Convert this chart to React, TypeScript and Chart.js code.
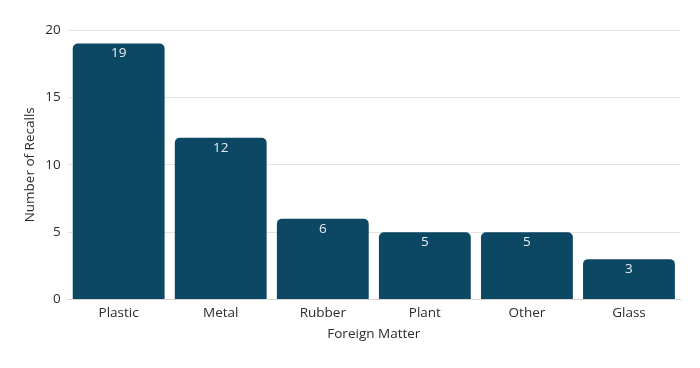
import React, { useEffect, useRef } from "react";
import { Chart, registerables } from "chart.js";

Chart.register(...registerables);

const categories = ["Plastic", "Metal", "Rubber", "Plant", "Other", "Glass"];
const recalls = [19, 12, 6, 5, 5, 3];
const yTicks = [0, 5, 10, 15, 20];

const valueLabels = {
  id: "valueLabels",
  afterDatasetsDraw(chart: any) {
    const ctx = chart.ctx;
    const meta = chart.getDatasetMeta(0);
    ctx.save();
    ctx.fillStyle = "#e8eef2";
    ctx.font = "13.5px 'Open Sans'";
    ctx.textAlign = "center";
    ctx.textBaseline = "middle";
    meta.data.forEach((bar: any, i: number) => {
      ctx.fillText(String(chart.data.datasets[0].data[i]), bar.x, bar.y + 10);
    });
    ctx.restore();
  },
};

export default function App() {
  const ref = useRef<HTMLCanvasElement>(null);
  useEffect(() => {
    document.body.style.margin = "0";
    const font = { family: "'Open Sans'", size: 13.5 };
    const chart = new Chart(ref.current!, {
      type: "bar",
      data: {
        labels: categories,
        datasets: [
          {
            data: recalls,
            backgroundColor: "#0c4764",
            borderRadius: { topLeft: 5, topRight: 5, bottomLeft: 0, bottomRight: 0 },
            borderSkipped: "bottom",
            barPercentage: 0.9,
            categoryPercentage: 1,
          },
        ],
      },
      options: {
        animation: false,
        responsive: false,
        maintainAspectRatio: false,
        layout: { padding: { top: 30, right: 20, bottom: 22, left: 18 } },
        plugins: { legend: { display: false }, tooltip: { enabled: false } },
        scales: {
          x: {
            grid: { display: false, drawTicks: false },
            border: { color: "#d6d6d6" },
            ticks: { color: "#2b2b2b", font, padding: 5 },
            title: {
              display: true,
              text: "Foreign Matter",
              color: "#2b2b2b",
              font,
              padding: { top: 0 },
            },
          },
          y: {
            min: 0,
            max: 20,
            afterBuildTicks: (axis: any) => {
              axis.ticks = yTicks.map((v) => ({ value: v }));
            },
            grid: { color: "#e3e3e3", drawTicks: false },
            border: { display: false },
            ticks: { color: "#2b2b2b", font, padding: 7 },
            title: {
              display: true,
              text: "Number of Recalls",
              color: "#2b2b2b",
              font,
              padding: { bottom: 0 },
            },
          },
        },
      },
      plugins: [valueLabels],
    });
    return () => chart.destroy();
  }, []);
  return <canvas ref={ref} width={700} height={368} style={{ display: "block" }} />;
}
